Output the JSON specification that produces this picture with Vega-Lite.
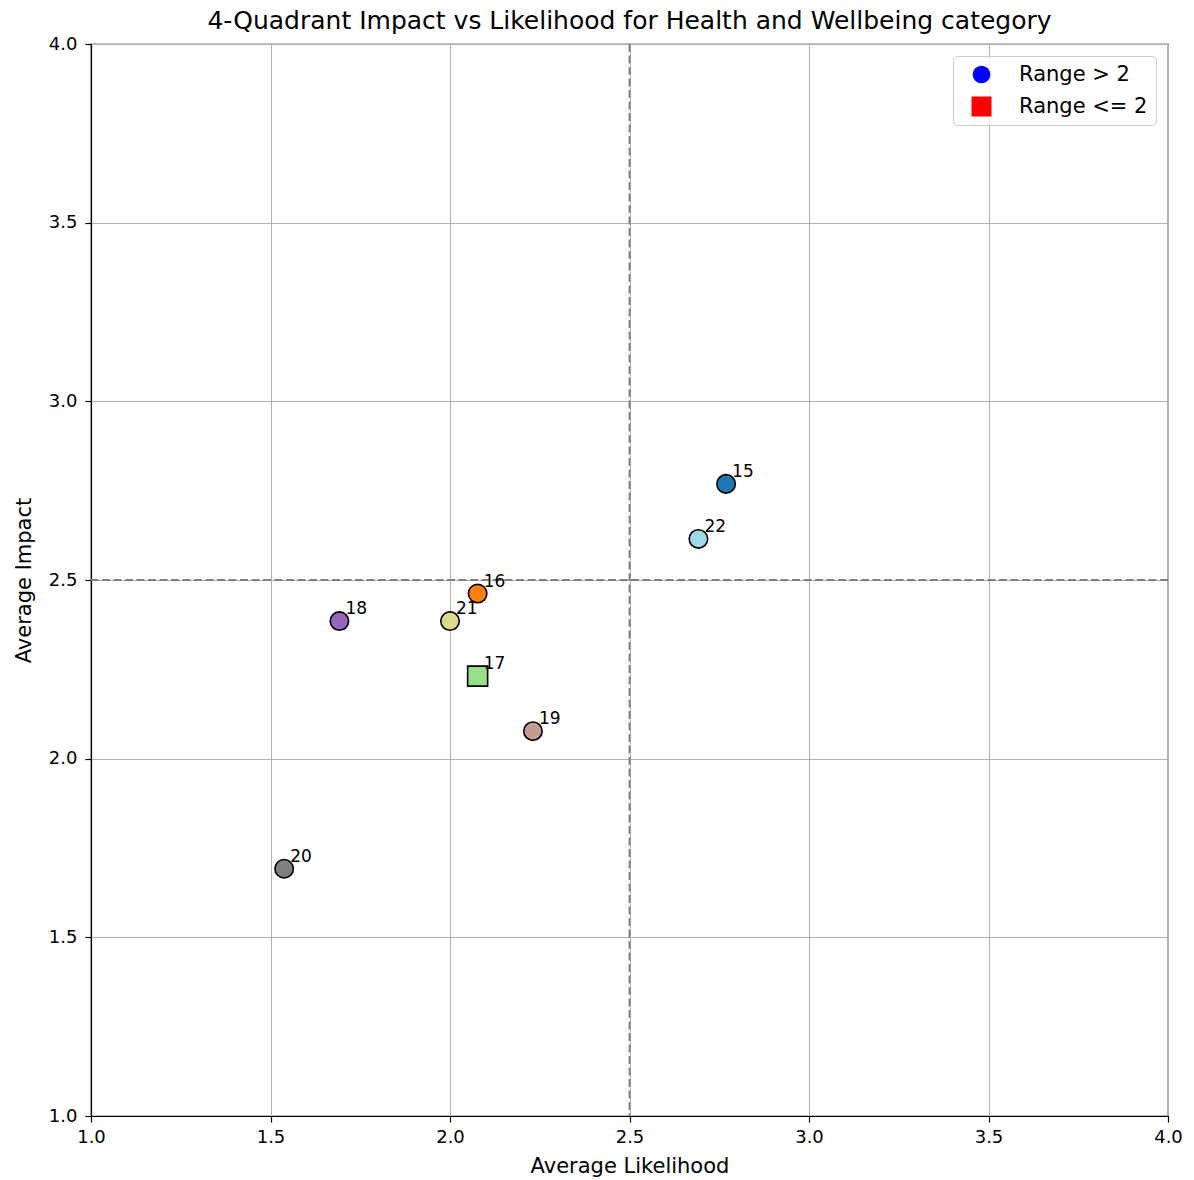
{
  "$schema": "https://vega.github.io/schema/vega-lite/v6.json",
  "width": 1077,
  "height": 1072,
  "autosize": {"type": "none"},
  "padding": {"left": 91, "top": 44, "right": 26, "bottom": 64},
  "background": "white",
  "title": {
    "text": "4-Quadrant Impact vs Likelihood for Health and Wellbeing category",
    "font": "DejaVu Sans",
    "fontSize": 25,
    "fontWeight": "normal",
    "color": "#000000",
    "anchor": "middle",
    "offset": 1
  },
  "config": {
    "font": "DejaVu Sans",
    "view": {"stroke": "#000000", "strokeWidth": 1.2},
    "axis": {
      "labelFont": "DejaVu Sans",
      "labelFontSize": 18,
      "labelColor": "#000000",
      "titleFont": "DejaVu Sans",
      "titleFontSize": 21,
      "titleFontWeight": "normal",
      "titleColor": "#000000",
      "domainColor": "#000000",
      "domainWidth": 1.2,
      "tickColor": "#000000",
      "tickSize": 6,
      "tickWidth": 1.2,
      "gridColor": "#b0b0b0",
      "gridWidth": 1,
      "labelFlush": false,
      "labelOverlap": false
    }
  },
  "datasets": {
    "risks": [
      {"id": "15", "likelihood": 2.769, "impact": 2.769, "range": "Range > 2"},
      {"id": "16", "likelihood": 2.077, "impact": 2.462, "range": "Range > 2"},
      {"id": "17", "likelihood": 2.077, "impact": 2.231, "range": "Range <= 2"},
      {"id": "18", "likelihood": 1.692, "impact": 2.385, "range": "Range > 2"},
      {"id": "19", "likelihood": 2.231, "impact": 2.077, "range": "Range > 2"},
      {"id": "20", "likelihood": 1.538, "impact": 1.692, "range": "Range > 2"},
      {"id": "21", "likelihood": 2.0, "impact": 2.385, "range": "Range > 2"},
      {"id": "22", "likelihood": 2.692, "impact": 2.615, "range": "Range > 2"}
    ],
    "midlines": [{"mid": 2.5}]
  },
  "layer": [
    {
      "data": {"name": "risks"},
      "transform": [{"filter": "false"}],
      "mark": {"type": "point", "filled": true, "opacity": 1},
      "encoding": {
        "x": {
          "field": "likelihood",
          "type": "quantitative",
          "scale": {"domain": [1, 4], "nice": false, "zero": false},
          "axis": {
            "title": "Average Likelihood",
            "values": [1, 1.5, 2, 2.5, 3, 3.5, 4],
            "format": ".1f",
            "labelPadding": 6,
            "titlePadding": 9
          }
        },
        "y": {
          "field": "impact",
          "type": "quantitative",
          "scale": {"domain": [1, 4], "nice": false, "zero": false},
          "axis": {
            "title": "Average Impact",
            "values": [1, 1.5, 2, 2.5, 3, 3.5, 4],
            "format": ".1f",
            "labelPadding": 8,
            "titlePadding": 14
          }
        },
        "color": {
          "field": "range",
          "type": "nominal",
          "scale": {"domain": ["Range > 2", "Range <= 2"], "range": ["blue", "red"]},
          "legend": {
            "title": null,
            "orient": "top-right",
            "offset": 12,
            "padding": 8,
            "fillColor": "rgba(255,255,255,0.8)",
            "strokeColor": "#cccccc",
            "cornerRadius": 4,
            "labelFont": "DejaVu Sans",
            "labelFontSize": 21,
            "labelColor": "#000000",
            "symbolSize": 340,
            "symbolOffset": 10,
            "labelOffset": 27,
            "rowPadding": 10,
            "symbolStrokeWidth": 0
          }
        },
        "shape": {
          "field": "range",
          "type": "nominal",
          "scale": {"domain": ["Range > 2", "Range <= 2"], "range": ["circle", "square"]}
        },
        "size": {
          "field": "range",
          "type": "nominal",
          "scale": {"domain": ["Range > 2", "Range <= 2"], "range": [314, 400]}
        }
      }
    },
    {
      "data": {"name": "midlines"},
      "mark": {"type": "rule", "stroke": "#808080", "strokeWidth": 1.9, "strokeDash": [8, 3.5]},
      "encoding": {
        "x": {"field": "mid", "type": "quantitative", "scale": {"domain": [1, 4], "nice": false, "zero": false}}
      }
    },
    {
      "data": {"name": "midlines"},
      "mark": {"type": "rule", "stroke": "#808080", "strokeWidth": 1.9, "strokeDash": [8, 3.5]},
      "encoding": {
        "y": {"field": "mid", "type": "quantitative", "scale": {"domain": [1, 4], "nice": false, "zero": false}}
      }
    },
    {
      "data": {"name": "risks"},
      "transform": [{"filter": {"field": "range", "equal": "Range > 2"}}],
      "mark": {"type": "point", "shape": "circle", "filled": true, "stroke": "#000000", "strokeWidth": 1.6, "opacity": 1, "size": 340},
      "encoding": {
        "x": {"field": "likelihood", "type": "quantitative", "scale": {"domain": [1, 4], "nice": false, "zero": false}},
        "y": {"field": "impact", "type": "quantitative", "scale": {"domain": [1, 4], "nice": false, "zero": false}},
        "fill": {
          "field": "id",
          "type": "nominal",
          "scale": {
            "domain": ["15", "16", "17", "18", "19", "20", "21", "22"],
            "range": ["#1f77b4", "#ff7f0e", "#98df8a", "#9467bd", "#c49c94", "#7f7f7f", "#dbdb8d", "#9edae5"]
          },
          "legend": null
        }
      }
    },
    {
      "data": {"name": "risks"},
      "transform": [{"filter": {"field": "range", "equal": "Range <= 2"}}],
      "mark": {"type": "point", "shape": "square", "filled": true, "stroke": "#000000", "strokeWidth": 1.6, "opacity": 1, "size": 400},
      "encoding": {
        "x": {"field": "likelihood", "type": "quantitative", "scale": {"domain": [1, 4], "nice": false, "zero": false}},
        "y": {"field": "impact", "type": "quantitative", "scale": {"domain": [1, 4], "nice": false, "zero": false}},
        "fill": {
          "field": "id",
          "type": "nominal",
          "scale": {
            "domain": ["15", "16", "17", "18", "19", "20", "21", "22"],
            "range": ["#1f77b4", "#ff7f0e", "#98df8a", "#9467bd", "#c49c94", "#7f7f7f", "#dbdb8d", "#9edae5"]
          },
          "legend": null
        }
      }
    },
    {
      "data": {"name": "risks"},
      "mark": {"type": "text", "align": "left", "baseline": "alphabetic", "dx": 6, "dy": -7, "font": "DejaVu Sans", "fontSize": 17, "color": "#000000"},
      "encoding": {
        "x": {"field": "likelihood", "type": "quantitative", "scale": {"domain": [1, 4], "nice": false, "zero": false}},
        "y": {"field": "impact", "type": "quantitative", "scale": {"domain": [1, 4], "nice": false, "zero": false}},
        "text": {"field": "id"}
      }
    }
  ]
}
